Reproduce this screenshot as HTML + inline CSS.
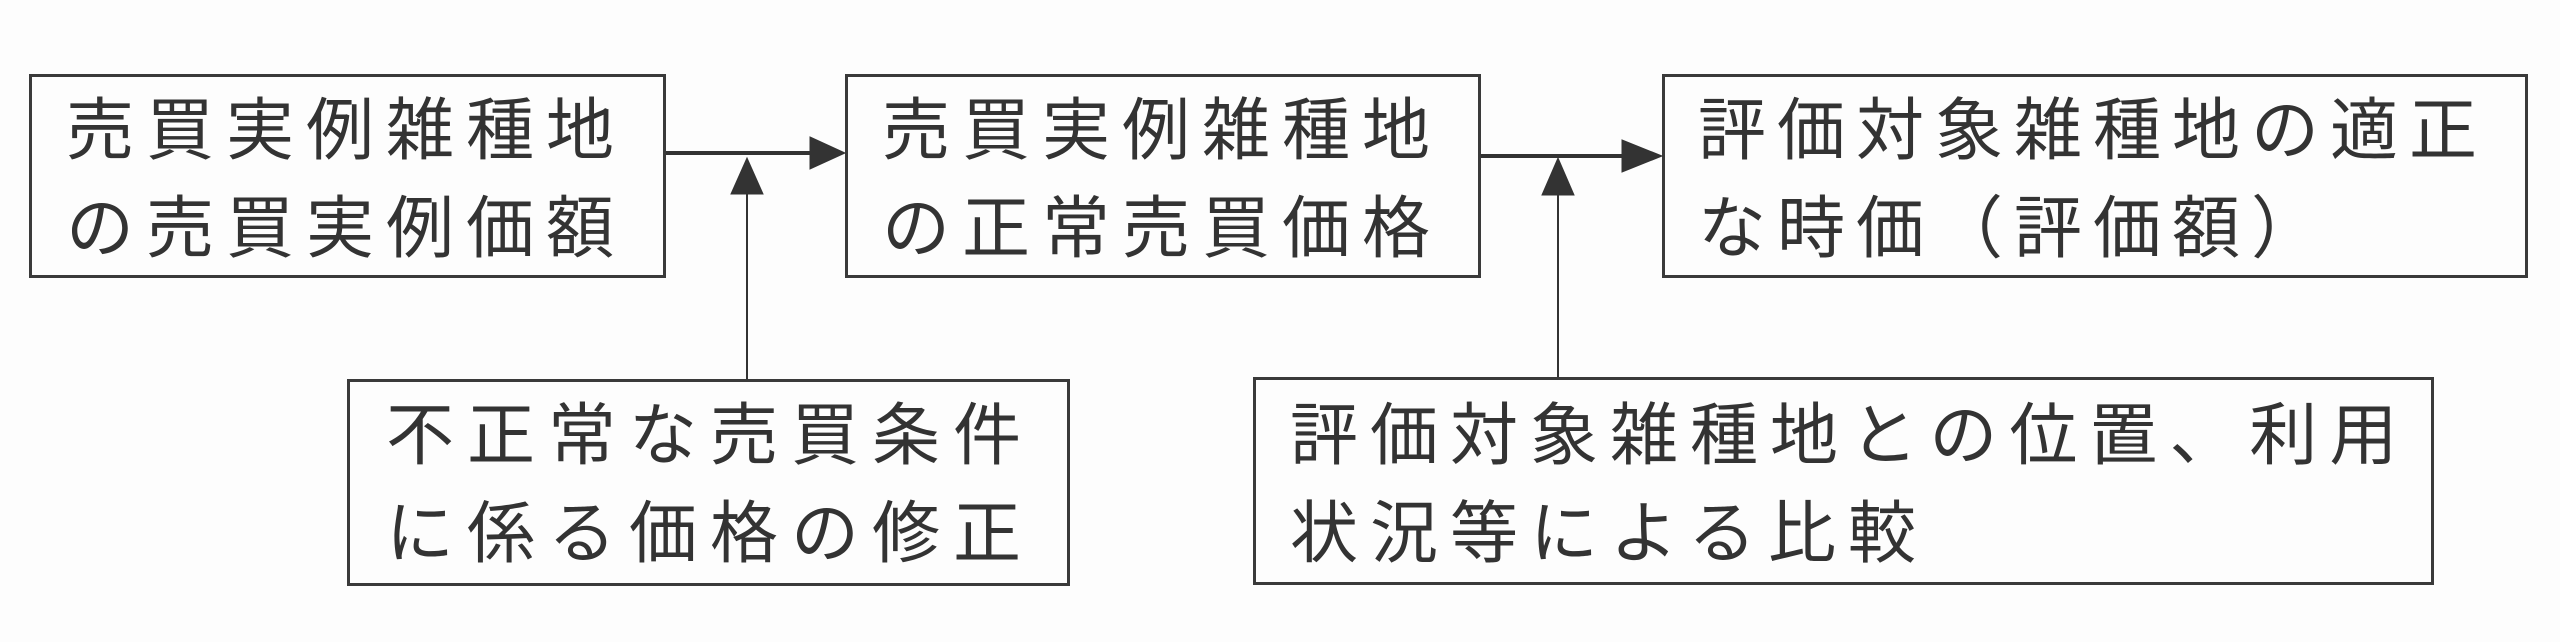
<!DOCTYPE html>
<html><head><meta charset="utf-8"><style>
body{margin:0;width:2560px;height:642px;background:#fdfdfd;position:relative;overflow:hidden;font-family:"Liberation Sans","Noto Sans CJK JP",sans-serif;color:#333}
.b{position:absolute;border:3px solid #3a3a3a;box-sizing:border-box}
.t{position:absolute;font-size:68px;line-height:98px;white-space:nowrap;font-weight:400}
</style></head><body>
<div class="b" style="left:29px;top:74px;width:637px;height:204px"></div>
<div class="t" style="left:66px;top:82px;letter-spacing:12px">売買実例雑種地<br>の売買実例価額</div>
<div class="b" style="left:845px;top:74px;width:636px;height:204px"></div>
<div class="t" style="left:882px;top:82px;letter-spacing:12px">売買実例雑種地<br>の正常売買価格</div>
<div class="b" style="left:1662px;top:74px;width:866px;height:204px"></div>
<div class="t" style="left:1698px;top:82px;letter-spacing:11px">評価対象雑種地の適正<br>な時価（評価額）</div>
<div class="b" style="left:347px;top:379px;width:723px;height:207px"></div>
<div class="t" style="left:386px;top:387px;letter-spacing:13px">不正常な売買条件<br>に係る価格の修正</div>
<div class="b" style="left:1253px;top:377px;width:1181px;height:208px"></div>
<div class="t" style="left:1290px;top:387px;letter-spacing:12px">評価対象雑種地との位置、利用<br>状況等による比較</div>
<svg width="2560" height="642" style="position:absolute;left:0;top:0">
<g stroke="#333" fill="#333">
<line x1="666" y1="153" x2="812" y2="153" stroke-width="4"/>
<polygon points="810,137 845,153 810,169"/>
<line x1="747" y1="379" x2="747" y2="190" stroke-width="2"/>
<polygon points="731,194 747,158 763,194"/>
<line x1="1481" y1="156" x2="1625" y2="156" stroke-width="4"/>
<polygon points="1622,140 1662,156 1622,172"/>
<line x1="1558" y1="377" x2="1558" y2="190" stroke-width="2"/>
<polygon points="1542,195 1558,158 1574,195"/>
</g></svg>
</body></html>
